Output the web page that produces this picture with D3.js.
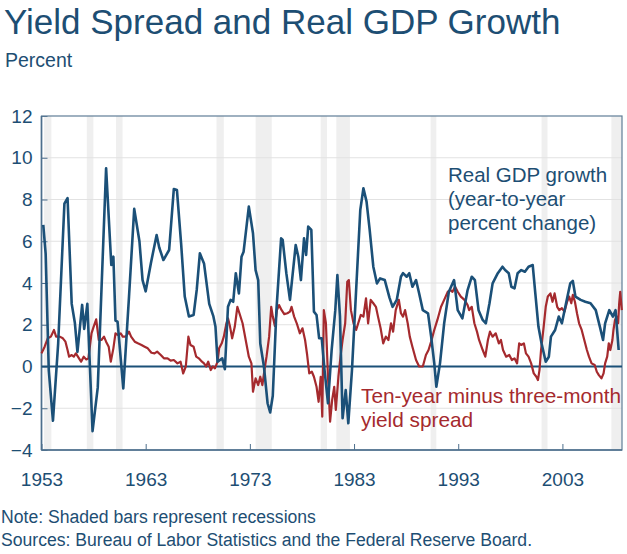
<!DOCTYPE html>
<html>
<head>
<meta charset="utf-8">
<script src="https://cdn.jsdelivr.net/npm/d3@7"></script>
<style>
  html, body { margin: 0; padding: 0; background: #fff; }
  svg { display: block; font-family: "Liberation Sans", Arial, sans-serif; }
</style>
</head>
<body>
<svg id="chart" width="627" height="554"></svg>
<script>
// ---------- DATA ----------
const yTicks = [-4, -2, 0, 2, 4, 6, 8, 10, 12];
const xTickYears = [1953, 1963, 1973, 1983, 1993, 2003];

// Recession periods (start, end) in decimal years
const recessionStarts = [1953.25, 1957.35, 1960.15, 1969.8, 1973.55, 1979.8, 1981.3, 1990.35, 2001.0, 2007.7];
const recessionEnds   = [1953.95, 1957.98, 1960.78, 1970.5, 1975.1, 1980.4, 1982.6, 1990.9, 2001.57, 2008.72];

// Real GDP growth, year-to-year percent change (quarterly)
const gdpDates = [
 1953.17,1953.4,1953.7,1954.1,1954.6,1955.2,1955.5,1955.9,1956.2,1956.45,1956.9,1957.1,1957.4,1957.9,
 1958.4,1959.2,1959.7,1959.9,1960.1,1960.3,1960.85,1961.4,1961.9,1962.4,1962.7,1963.0,1963.5,1964.05,
 1964.3,1964.7,1965.25,1965.7,1966.0,1966.4,1966.75,1967.15,1967.6,1967.9,1968.2,1968.6,1969.1,1969.5,
 1969.7,1969.9,1970.35,1970.6,1970.9,1971.15,1971.4,1971.65,1971.95,1972.2,1972.4,1972.9,1973.3,1973.55,
 1973.8,1974.0,1974.35,1974.7,1974.95,1975.2,1975.55,1976.0,1976.15,1976.5,1976.85,1977.4,1977.65,1977.9,
 1978.2,1978.4,1978.6,1978.9,1979.15,1979.4,1979.65,1979.9,1980.15,1980.5,1980.85,1981.2,1981.4,1981.65,
 1981.9,1982.2,1982.45,1982.8,1983.2,1983.6,1983.9,1984.2,1984.5,1984.85,1985.2,1985.5,1985.95,1986.4,
 1986.7,1987.1,1987.5,1987.7,1988.05,1988.3,1988.6,1988.95,1989.25,1989.6,1990.1,1990.4,1990.7,1990.9,
 1991.25,1991.65,1992.1,1992.6,1992.95,1993.4,1993.9,1994.3,1994.6,1994.95,1995.35,1995.65,1996.0,1996.3,
 1996.8,1997.25,1997.5,1997.85,1998.1,1998.4,1998.7,1999.05,1999.4,1999.75,2000.15,2000.4,2000.7,2001.0,
 2001.4,2001.7,2001.9,2002.3,2002.65,2002.95,2003.35,2003.75,2004.0,2004.25,2004.75,2005.2,2005.7,2006.2,
 2006.6,2006.9,2007.1,2007.5,2007.85,2008.1,2008.4
];
const gdpValues = [
 6.78,5.4,-0.2,-2.6,1.1,7.8,8.07,3.0,2.1,0.7,2.95,1.8,3.0,-3.1,
 -1.0,9.5,4.86,5.26,2.2,2.15,-1.05,3.35,7.55,6.0,4.14,3.6,4.95,6.3,
 5.7,5.1,5.58,8.5,8.45,5.9,3.35,2.4,2.47,3.67,5.42,4.94,3.0,2.4,
 1.9,0.23,0.39,-0.13,2.86,3.19,3.1,4.47,3.5,5.26,5.5,7.66,6.38,4.62,
 4.14,1.1,0.0,-1.76,-2.2,-1.4,2.7,6.14,6.06,4.47,3.19,5.82,5.26,4.14,
 6.14,5.34,6.7,6.54,2.63,2.47,1.35,1.35,-0.09,-1.76,0.79,2.7,4.38,2.4,
 -2.48,-1.13,-2.72,-0.17,3.66,7.5,8.54,7.9,6.54,4.78,3.98,4.22,4.14,3.3,
 2.86,3.19,4.3,4.47,4.3,4.47,3.82,4.14,3.5,2.7,2.55,1.43,0.15,-0.97,
 0.15,2.07,3.58,4.14,2.7,2.31,3.66,4.3,4.14,2.7,2.23,2.07,3.03,3.98,
 4.47,4.78,4.62,4.47,3.82,3.74,4.47,4.62,4.54,4.78,4.86,3.5,1.9,1.1,
 0.23,0.47,1.43,1.75,2.39,2.07,3.03,3.98,4.1,3.35,3.19,3.1,3.03,2.7,
 1.9,1.27,2.07,2.7,2.39,2.7,0.79
];

// Ten-year minus three-month yield spread
const spreadDates = [
 1953.0,1953.3,1953.6,1953.9,1954.2,1954.4,1954.75,1955.05,1955.3,1955.5,1955.65,1955.9,1956.1,1956.3,
 1956.6,1956.8,1957.05,1957.3,1957.5,1957.8,1958.0,1958.25,1958.5,1958.75,1959.0,1959.2,1959.45,1959.65,
 1959.9,1960.1,1960.35,1960.6,1960.8,1961.1,1961.4,1961.6,1961.95,1962.25,1962.6,1962.9,1963.2,1963.55,
 1963.85,1964.1,1964.45,1964.75,1965.1,1965.4,1965.7,1966.05,1966.35,1966.6,1966.85,1967.1,1967.3,1967.6,
 1967.85,1968.1,1968.4,1968.6,1968.8,1969.0,1969.25,1969.45,1969.65,1969.9,1970.05,1970.3,1970.5,1970.75,
 1970.9,1971.1,1971.3,1971.55,1971.8,1972.0,1972.3,1972.6,1972.9,1973.15,1973.3,1973.55,1973.8,1974.0,
 1974.2,1974.45,1974.6,1974.85,1975.05,1975.2,1975.4,1975.6,1975.8,1976.05,1976.3,1976.6,1976.85,1977.0,
 1977.25,1977.5,1977.8,1978.05,1978.3,1978.5,1978.7,1978.95,1979.15,1979.4,1979.6,1979.8,1979.95,1980.1,
 1980.3,1980.5,1980.7,1980.9,1981.1,1981.25,1981.5,1981.7,1981.9,1982.15,1982.35,1982.5,1982.7,1982.95,
 1983.2,1983.4,1983.65,1983.9,1984.15,1984.35,1984.6,1984.85,1985.1,1985.3,1985.55,1985.8,1986.05,1986.3,
 1986.55,1986.75,1987.0,1987.3,1987.5,1987.7,1987.9,1988.15,1988.35,1988.6,1988.95,1989.25,1989.6,1989.9,
 1990.15,1990.4,1990.7,1991.0,1991.35,1991.65,1992.0,1992.25,1992.45,1992.7,1992.95,1993.25,1993.6,1993.9,
 1994.05,1994.3,1994.55,1994.8,1995.0,1995.35,1995.6,1995.85,1996.05,1996.3,1996.6,1996.9,1997.1,1997.3,
 1997.6,1997.9,1998.15,1998.4,1998.65,1998.85,1999.05,1999.3,1999.5,1999.75,2000.0,2000.25,2000.5,2000.65,
 2000.8,2000.95,2001.2,2001.4,2001.6,2001.85,2002.05,2002.25,2002.5,2002.7,2002.95,2003.2,2003.45,2003.65,
 2003.85,2004.0,2004.2,2004.4,2004.6,2004.85,2005.1,2005.35,2005.55,2005.8,2006.1,2006.3,2006.5,2006.75,
 2006.95,2007.1,2007.3,2007.45,2007.6,2007.8,2007.9,2008.05,2008.2,2008.35,2008.45,2008.55,2008.7
];
const spreadValues = [
 0.63,0.95,1.35,1.43,1.75,1.43,1.43,1.35,1.19,0.79,0.47,0.55,0.47,0.63,
 0.39,0.23,0.47,0.34,0.39,1.59,1.9,2.26,1.27,1.27,1.43,1.19,0.95,0.23,
 0.87,1.59,1.51,1.59,1.43,1.43,1.67,1.43,1.19,1.11,1.03,0.95,0.87,0.66,
 0.63,0.71,0.55,0.39,0.39,0.28,0.31,0.15,0.23,-0.33,0.0,1.43,1.03,0.95,
 0.47,0.39,0.23,0.15,0.0,0.23,-0.17,0.0,-0.09,0.23,0.87,1.11,1.43,2.07,
 2.31,1.9,1.35,1.9,2.86,2.55,2.07,1.27,0.47,0.15,-1.21,-0.57,-0.89,-0.49,
 -0.89,0.0,0.47,1.43,2.86,2.39,1.94,2.7,2.94,2.7,2.51,2.55,2.63,2.86,
 2.39,2.07,1.59,1.83,1.27,0.55,-0.33,-0.25,-0.49,-0.97,-1.69,-0.49,-2.4,2.7,
 2.07,-0.49,-2.64,-1.6,-0.97,-2.08,-0.49,0.47,1.27,2.07,4.06,4.14,2.7,2.07,
 1.75,2.07,2.47,2.39,3.27,2.07,3.19,3.03,2.86,2.39,1.83,1.11,1.43,1.27,
 2.07,1.67,2.7,3.19,2.55,2.39,2.7,2.07,1.43,0.95,0.31,0.0,0.0,0.55,
 0.79,1.19,1.75,2.23,2.86,3.19,3.58,3.66,3.58,3.82,3.58,3.35,3.19,2.94,
 2.7,2.86,2.07,1.67,1.27,0.79,0.47,1.27,1.67,1.43,1.59,1.11,1.27,0.79,
 0.47,0.55,0.31,0.39,0.15,1.11,1.03,1.11,0.63,0.47,0.15,-0.33,-0.49,-0.65,
 -0.17,0.79,1.9,2.86,3.35,3.5,3.1,3.5,2.86,2.7,2.79,2.63,3.1,3.35,
 3.03,3.43,3.1,2.55,2.07,1.75,1.27,0.79,0.47,0.15,0.07,-0.25,-0.41,-0.57,
 -0.33,0.15,0.47,1.11,0.79,1.27,1.75,2.23,2.39,2.07,3.03,3.58,2.7
];

// ---------- LAYOUT ----------
const svg = d3.select("#chart");
const pLeft = 41.5, pRight = 622, pTop = 116, pBottom = 450;
const textBlue = "#1d4e73";
const lineBlue = "#1b5078";
const lineRed = "#a52a2e";
const axisCol = "#4d6f8d";

const x = d3.scaleLinear().domain([1953, 2008.72]).range([pLeft, pRight]);
const y = d3.scaleLinear().domain([-4, 12]).range([pBottom, pTop]);

// Title
svg.append("text").attr("x", 4).attr("y", 34)
  .attr("font-size", 35).attr("fill", textBlue)
  .text("Yield Spread and Real GDP Growth");
svg.append("text").attr("x", 5).attr("y", 67)
  .attr("font-size", 19.5).attr("fill", textBlue)
  .text("Percent");

// Recession bars
const recessions = recessionStarts.map((s, i) => ({ s, e: recessionEnds[i] }));
svg.append("g").selectAll("rect").data(recessions).join("rect")
  .attr("x", d => x(d.s)).attr("width", d => x(d.e) - x(d.s))
  .attr("y", pTop).attr("height", pBottom - pTop)
  .attr("fill", "#efefef");

// Gridlines
svg.append("g").selectAll("line").data(yTicks.filter(t => t !== 0 && t !== -4 && t !== 12)).join("line")
  .attr("x1", pLeft).attr("x2", pRight)
  .attr("y1", d => y(d)).attr("y2", d => y(d))
  .attr("stroke", "#e2e2e2").attr("stroke-width", 1);

// Y axis (ticks inside, labels outside)
const yAxis = d3.axisLeft(y).tickValues(yTicks).tickSize(-6).tickPadding(10).tickFormat(d3.format("d"));
const gy = svg.append("g").attr("transform", `translate(${pLeft},0)`).call(yAxis);
gy.select(".domain").remove();
gy.selectAll(".tick line").attr("stroke", axisCol).attr("stroke-width", 1);
gy.selectAll(".tick text").attr("font-size", 19).attr("fill", textBlue)
  .attr("font-family", "Liberation Sans, Arial, sans-serif").attr("x", -9);

// X axis (ticks inside pointing up, labels below)
const xAxis = d3.axisBottom(x).tickValues(xTickYears).tickSize(-6).tickPadding(23).tickFormat(d3.format("d"));
const gx = svg.append("g").attr("transform", `translate(0,${pBottom})`).call(xAxis);
gx.select(".domain").remove();
gx.selectAll(".tick line").attr("stroke", axisCol).attr("stroke-width", 1);
gx.selectAll(".tick text").attr("font-size", 19).attr("fill", textBlue)
  .attr("font-family", "Liberation Sans, Arial, sans-serif");

// Frame
svg.append("rect").attr("x", pLeft).attr("y", pTop)
  .attr("width", pRight - pLeft).attr("height", pBottom - pTop)
  .attr("fill", "none").attr("stroke", "#5f7d97").attr("stroke-width", 1.2);
svg.append("line").attr("x1", pLeft).attr("x2", pLeft).attr("y1", pTop).attr("y2", pBottom)
  .attr("stroke", axisCol).attr("stroke-width", 1.6);
svg.append("line").attr("x1", pLeft).attr("x2", pRight).attr("y1", pBottom).attr("y2", pBottom)
  .attr("stroke", axisCol).attr("stroke-width", 1.6);

// Zero line
svg.append("line").attr("x1", pLeft).attr("x2", pRight).attr("y1", y(0)).attr("y2", y(0))
  .attr("stroke", lineBlue).attr("stroke-width", 2);

// Lines
const spread = spreadDates.map((d, i) => [d, spreadValues[i]]);
const gdp = gdpDates.map((d, i) => [d, gdpValues[i]]);
const line = d3.line().x(d => x(d[0])).y(d => y(d[1]));

svg.append("path").datum(spread).attr("d", line)
  .attr("fill", "none").attr("stroke", lineRed).attr("stroke-width", 2.2)
  .attr("stroke-linejoin", "round");
svg.append("path").datum(gdp).attr("d", line)
  .attr("fill", "none").attr("stroke", lineBlue).attr("stroke-width", 2.6)
  .attr("stroke-linejoin", "round");

// Series labels
const gdpLabel = ["Real GDP growth", "(year-to-year", "percent change)"];
svg.append("g").selectAll("text").data(gdpLabel).join("text")
  .attr("x", 448).attr("y", (d, i) => 182 + i * 24)
  .attr("font-size", 20.5).attr("fill", textBlue).text(d => d);

const spreadLabel = ["Ten-year minus three-month", "yield spread"];
svg.append("g").selectAll("text").data(spreadLabel).join("text")
  .attr("x", 361).attr("y", (d, i) => 403 + i * 24)
  .attr("font-size", 20.8).attr("fill", lineRed).text(d => d);

// Notes
svg.append("text").attr("x", 1).attr("y", 523).attr("font-size", 17.6).attr("fill", textBlue)
  .text("Note: Shaded bars represent recessions");
svg.append("text").attr("x", 1).attr("y", 546).attr("font-size", 17.6).attr("fill", textBlue)
  .text("Sources: Bureau of Labor Statistics and the Federal Reserve Board.");
</script>
</body>
</html>
